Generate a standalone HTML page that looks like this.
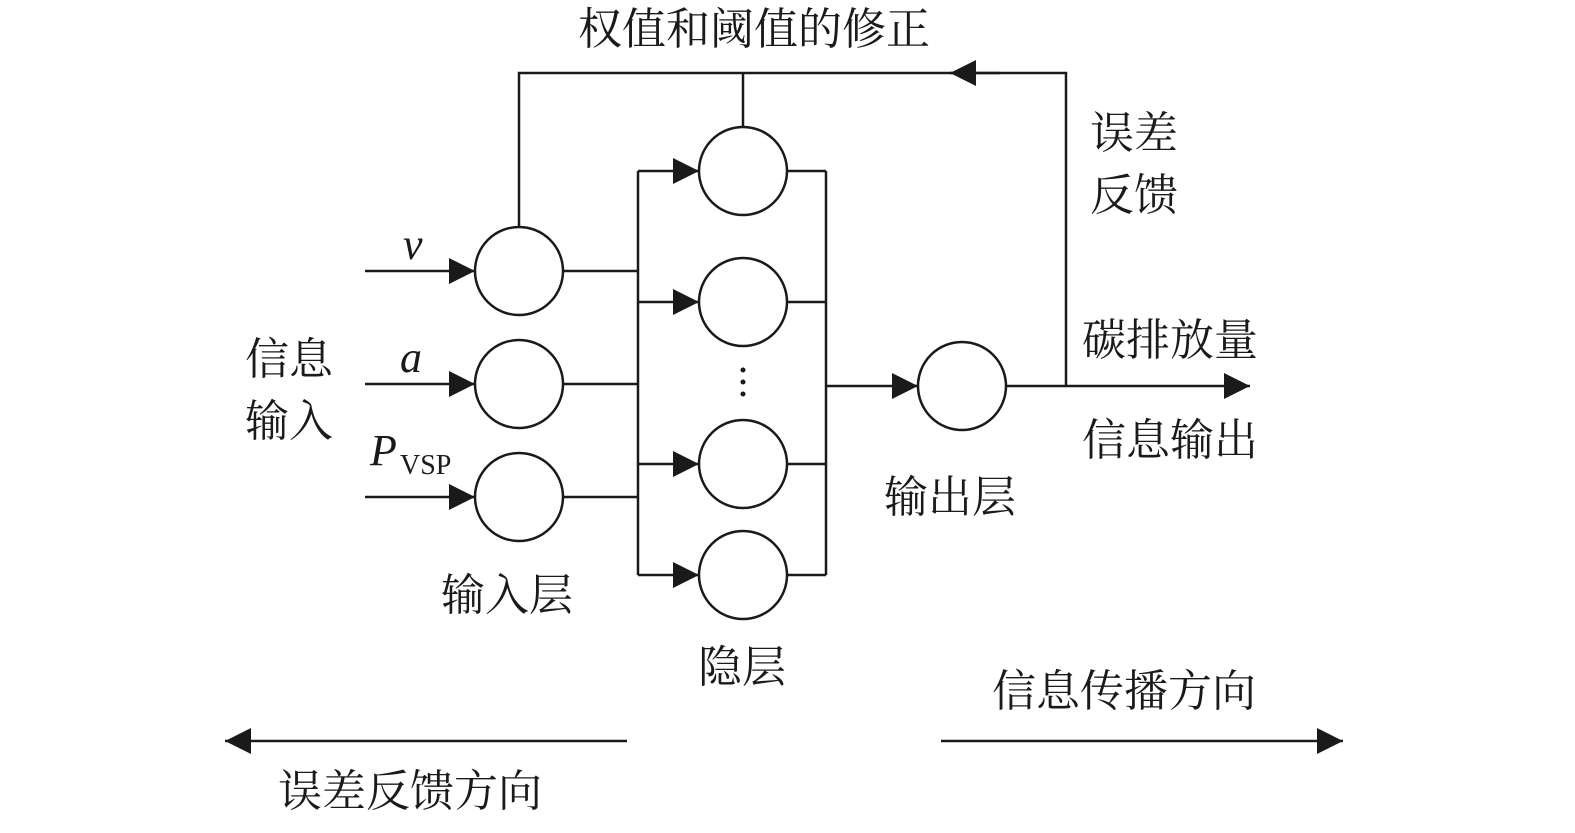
<!DOCTYPE html>
<html><head><meta charset="utf-8"><style>
html,body{margin:0;padding:0;background:#fff;}
svg text{font-family:"Liberation Serif","Noto Serif CJK SC","Noto Sans CJK SC",serif;fill:#1a1a1a;}
</style></head><body>
<svg width="1575" height="828" viewBox="0 0 1575 828" xmlns="http://www.w3.org/2000/svg">
<defs>
<marker id="a" viewBox="0 0 10 10" refX="10" refY="5" markerWidth="30" markerHeight="26" markerUnits="userSpaceOnUse" orient="auto">
<path d="M0,0 L10,5 L0,10 z" fill="#1a1a1a"/></marker>
</defs>
<g stroke="#1a1a1a" stroke-width="2.5" fill="none">
<!-- input circles -->
<circle cx="519" cy="271" r="44"/>
<circle cx="519" cy="384" r="44"/>
<circle cx="519" cy="497" r="44"/>
<!-- hidden -->
<circle cx="743" cy="171" r="44"/>
<circle cx="743" cy="302" r="44"/>
<circle cx="743" cy="464" r="44"/>
<circle cx="743" cy="575" r="44"/>
<!-- output -->
<circle cx="962" cy="386" r="44"/>
<!-- input arrows -->
<line x1="365" y1="271" x2="475" y2="271" marker-end="url(#a)"/>
<line x1="365" y1="384" x2="475" y2="384" marker-end="url(#a)"/>
<line x1="365" y1="497" x2="475" y2="497" marker-end="url(#a)"/>
<!-- input to bus -->
<line x1="563" y1="271" x2="638" y2="271"/>
<line x1="563" y1="384" x2="638" y2="384"/>
<line x1="563" y1="497" x2="638" y2="497"/>
<line x1="638" y1="171" x2="638" y2="575"/>
<!-- bus to hidden -->
<line x1="638" y1="171" x2="699" y2="171" marker-end="url(#a)"/>
<line x1="638" y1="302" x2="699" y2="302" marker-end="url(#a)"/>
<line x1="638" y1="464" x2="699" y2="464" marker-end="url(#a)"/>
<line x1="638" y1="575" x2="699" y2="575" marker-end="url(#a)"/>
<!-- hidden to right bus -->
<line x1="787" y1="171" x2="826" y2="171"/>
<line x1="787" y1="302" x2="826" y2="302"/>
<line x1="787" y1="464" x2="826" y2="464"/>
<line x1="787" y1="575" x2="826" y2="575"/>
<line x1="826" y1="171" x2="826" y2="575"/>
<line x1="826" y1="386" x2="918" y2="386" marker-end="url(#a)"/>
<!-- output -->
<line x1="1006" y1="386" x2="1250" y2="386" marker-end="url(#a)"/>
<!-- feedback -->
<polyline points="1066,386 1066,73 519,73 519,227"/>
<line x1="743" y1="73" x2="743" y2="127"/>
<line x1="1000" y1="73" x2="950" y2="73" marker-end="url(#a)"/>
<!-- direction arrows -->
<line x1="627" y1="741" x2="225" y2="741" marker-end="url(#a)"/>
<line x1="941" y1="741" x2="1343" y2="741" marker-end="url(#a)"/>
</g>
<g fill="#1a1a1a"><circle cx="743" cy="370" r="2.5"/><circle cx="743" cy="382" r="2.5"/><circle cx="743" cy="394" r="2.5"/></g>
<g font-size="44">
<text x="578" y="44">权值和阈值的修正</text>
<text x="1090" y="148">误差</text>
<text x="1090" y="210">反馈</text>
<text x="1082" y="355">碳排放量</text>
<text x="1082" y="455">信息输出</text>
<text x="245" y="374">信息</text>
<text x="245" y="436">输入</text>
<text x="441" y="610">输入层</text>
<text x="698" y="682">隐层</text>
<text x="884" y="512">输出层</text>
<text x="992" y="706">信息传播方向</text>
<text x="278" y="806">误差反馈方向</text>
<text x="403" y="259" font-style="italic">v</text>
<text x="400" y="372" font-style="italic">a</text>
<text x="370" y="465" font-style="italic">P</text>
<text x="400" y="474" font-size="28">VSP</text>
</g>
</svg>
</body></html>
